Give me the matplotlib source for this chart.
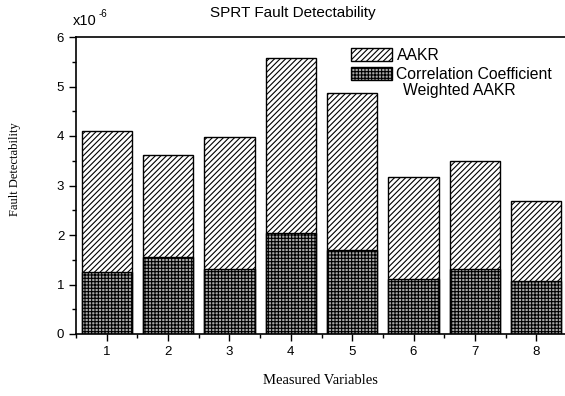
import matplotlib
matplotlib.use('Agg')
import matplotlib.pyplot as plt
from matplotlib.ticker import MultipleLocator

# valores (en unidades de 1e-6)
variables = [1, 2, 3, 4, 5, 6, 7, 8]
aakr = [4.10, 3.62, 3.97, 5.58, 4.87, 3.17, 3.49, 2.68]
cc_aakr = [1.25, 1.55, 1.31, 2.05, 1.70, 1.11, 1.32, 1.07]

plt.rcParams['font.family'] = 'Liberation Sans'
plt.rcParams['hatch.linewidth'] = 0.8

W, H = 565, 396
fig = plt.figure(figsize=(W / 100, H / 100), dpi=100)
ax = fig.add_axes([76 / W, 62 / H, 491 / W, 297 / H])

# barras AAKR (detras) y las del CC weighted encima
b1 = ax.bar(variables, aakr, width=0.82, facecolor='white', edgecolor='black',
            hatch='//////', linewidth=1.0)
b2 = ax.bar(variables, cc_aakr, width=0.82, facecolor='#a8a8a8', edgecolor='black',
            hatch='+++++', linewidth=1.0)

ax.set_xlim(0.5, 8.5)
ax.set_ylim(0, 6)
ax.xaxis.set_major_locator(MultipleLocator(1))
ax.xaxis.set_minor_locator(MultipleLocator(0.5))
ax.yaxis.set_major_locator(MultipleLocator(1))
ax.yaxis.set_minor_locator(MultipleLocator(0.5))
ax.tick_params(which='major', direction='out', length=5, width=1, labelsize=9.5)
ax.tick_params(which='minor', direction='out', length=3, width=1)
for s in ax.spines.values():
    s.set_linewidth(1.2)

fig.text(320 / W, 1 - 381 / H, 'Measured Variables', family='Liberation Serif',
         fontsize=10.5, ha='center', va='center')
fig.text(15 / W, 1 - 169 / H, 'Fault Detectability', family='Liberation Serif',
         fontsize=9, ha='center', va='center', rotation=90)
fig.text(293 / W, 1 - 13 / H, 'SPRT Fault Detectability', fontsize=11,
         ha='center', va='center')
fig.text(73 / W, 1 - 25 / H, 'x10', fontsize=10.5, ha='left', va='baseline')
fig.text(99 / W, 1 - 17 / H, '-6', fontsize=7, ha='left', va='baseline')

ax.legend([b1, b2], ['AAKR', 'Correlation Coefficient'],
          loc='upper left', bbox_to_anchor=(264 / 491, 1.0), frameon=False,
          fontsize=11.3, handlelength=2.6, handleheight=0.9, handletextpad=0.3,
          labelspacing=0.25, borderaxespad=0.3)
fig.text(403 / W, 1 - 90 / H, 'Weighted AAKR', fontsize=11.3, ha='left', va='center')

fig.savefig('out.png', dpi=100)
